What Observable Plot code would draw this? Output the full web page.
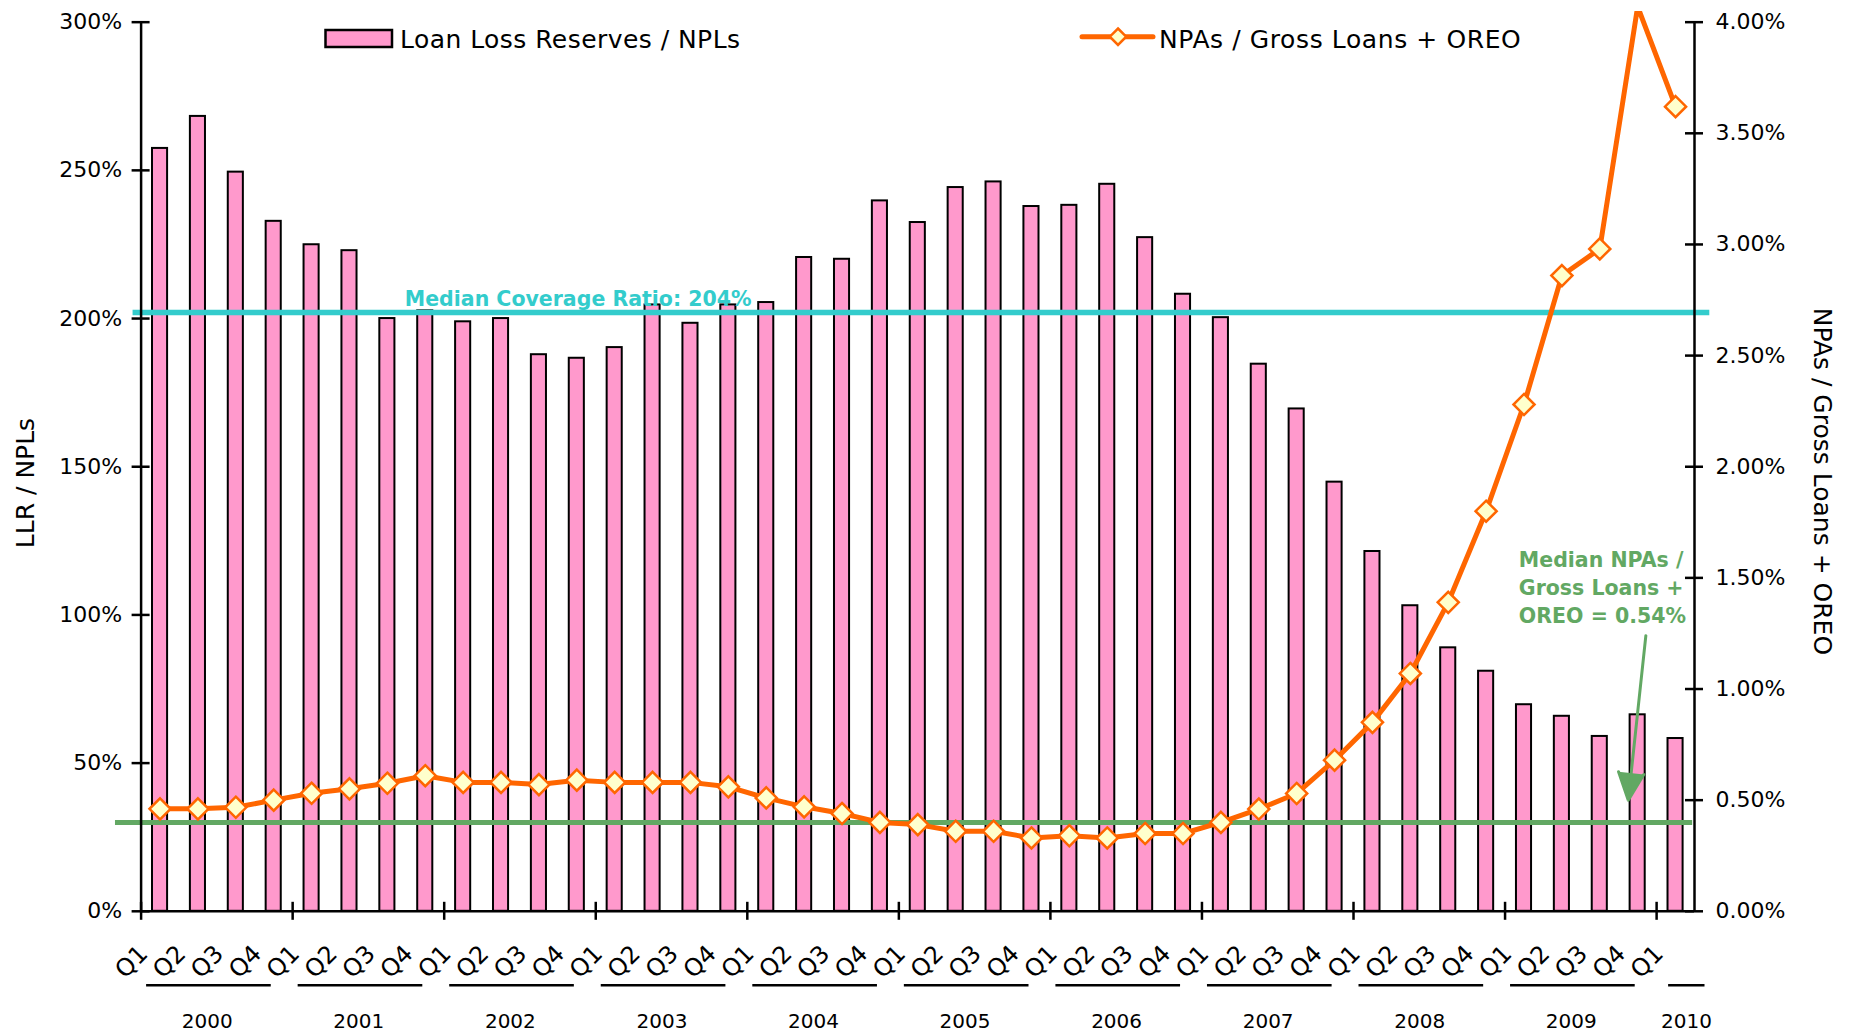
<!DOCTYPE html>
<html>
<head>
<meta charset="utf-8">
<script src="https://cdn.jsdelivr.net/npm/d3@7"></script>
<script src="https://cdn.jsdelivr.net/npm/@observablehq/plot@0.6"></script>
<style>
  html, body { margin: 0; padding: 0; background: #fff; }
  #wrap { position: relative; width: 1850px; height: 1032px; }
  #legend { position: absolute; left: 0; top: 0; pointer-events: none; }
</style>
</head>
<body>
<div id="wrap"></div>
<script>
// ---------------- data ----------------
const quarterLabels = [
  "Q1","Q2","Q3","Q4", "Q1","Q2","Q3","Q4", "Q1","Q2","Q3","Q4", "Q1","Q2","Q3","Q4",
  "Q1","Q2","Q3","Q4", "Q1","Q2","Q3","Q4", "Q1","Q2","Q3","Q4", "Q1","Q2","Q3","Q4",
  "Q1","Q2","Q3","Q4", "Q1","Q2","Q3","Q4", "Q1"
];
const yearLabels = ["2000","2001","2002","2003","2004","2005","2006","2007","2008","2009","2010"];

// Loan Loss Reserves / NPLs (%), left axis
const llrToNpls = [
  257.4, 268.2, 249.4, 232.8,
  224.9, 222.9, 200.0, 202.6,
  198.9, 200.0, 187.8, 186.6,
  190.2, 204.6, 198.4, 204.6,
  205.4, 220.6, 220.0, 239.7,
  232.4, 244.2, 246.1, 237.8,
  238.2, 245.3, 227.3, 208.2,
  200.3, 184.6, 169.5, 144.8,
  121.4, 103.1, 88.9, 81.0,
  69.7, 65.8, 59.0, 66.3,
  58.3
];
// NPAs / Gross Loans + OREO (%), right axis
const npaRatio = [
  0.461, 0.461, 0.468, 0.50,
  0.531, 0.551, 0.576, 0.61,
  0.58, 0.58, 0.57, 0.59,
  0.58, 0.58, 0.58, 0.56,
  0.51, 0.47, 0.44, 0.40,
  0.39, 0.36, 0.36, 0.33,
  0.34, 0.33, 0.35, 0.35,
  0.40, 0.46, 0.53, 0.68,
  0.85, 1.07, 1.39, 1.80,
  2.28, 2.86, 2.98, 4.07,
  3.62
];

const leftTicks = [0, 50, 100, 150, 200, 250, 300];
const rightTicks = [0, 0.5, 1, 1.5, 2, 2.5, 3, 3.5, 4];
const leftMax = 300, rightMax = 4;
const R = leftMax / rightMax;             // right-axis % -> left-axis %

const medianCoverage = 202;               // cyan reference line (left axis)
const medianNpa = 0.40;                   // green reference line (right axis)
const coverageText = "Median Coverage Ratio: 204%";
const npaText = "Median NPAs /\nGross Loans +\nOREO = 0.54%";

// ---------------- derived table ----------------
const startYear = 2000;
const rows = quarterLabels.map((q, i) => ({
  q,
  t1: startYear + i / 4,
  t2: startYear + (i + 1) / 4,
  tm: startYear + (i + 0.5) / 4,
  llr: llrToNpls[i],
  npa: npaRatio[i],
  npaY: npaRatio[i] * R
}));
const xEnd = startYear + quarterLabels.length / 4;
const fullYears = yearLabels.slice(0, -1).map(Number);
const lastYear = Number(yearLabels[yearLabels.length - 1]);
const yearTicks = d3.range(startYear, lastYear + 1);

const PINK = "#FF99CC", ORANGE = "#FF6600", MARKER = "#FFFFCC";
const CYAN = "#33CCCC", GREEN = "#62A863";
const FONT = "DejaVu Sans";

const chart = Plot.plot({
  width: 1850,
  height: 1032,
  marginLeft: 140.6,
  marginRight: 156,
  marginTop: 11,
  marginBottom: 121.2,
  x: {type: "linear", domain: [startYear, xEnd], axis: null},
  y: {type: "linear", domain: [0, 303.6], axis: null},
  style: {fontFamily: FONT, background: "white", overflow: "visible"},
  marks: [
    // bars
    Plot.rect(rows, {x1: "t1", x2: "t2", y1: 0, y2: "llr", fill: PINK, stroke: "#000", strokeWidth: 2, insetLeft: 11.4, insetRight: 11.4}),
    // reference lines
    Plot.ruleY([medianCoverage], {x1: 1999.947, x2: 2010.351, stroke: CYAN, strokeWidth: 5.5}),
    Plot.ruleY([medianNpa * R], {x1: 1999.831, x2: 2010.238, stroke: GREEN, strokeWidth: 5}),
    // NPA line + markers
    Plot.line(rows, {x: "tm", y: "npaY", stroke: ORANGE, strokeWidth: 5, clip: true}),
    Plot.dot(rows.filter(d => d.npa <= rightMax), {x: "tm", y: "npaY", symbol: "diamond2", r: 9.5, fill: MARKER, stroke: ORANGE, strokeWidth: 2.5}),
    // axes lines
    Plot.ruleX([startYear], {y1: 0, y2: leftMax, stroke: "#000", strokeWidth: 2.5}),
    Plot.ruleX([xEnd], {y1: 0, y2: leftMax, stroke: "#000", strokeWidth: 2.5}),
    Plot.ruleY([0], {x1: startYear, x2: xEnd, stroke: "#000", strokeWidth: 2.5}),
    // ticks crossing the axes
    Plot.ruleY(leftTicks, {x1: startYear, x2: startYear, insetLeft: -9, insetRight: -9, stroke: "#000", strokeWidth: 2.5}),
    Plot.ruleY(rightTicks.map(v => v * R), {x1: xEnd, x2: xEnd, insetLeft: -9, insetRight: -9, stroke: "#000", strokeWidth: 2.5}),
    Plot.ruleX(yearTicks, {y1: 0, y2: 0, insetTop: -9, insetBottom: -9, stroke: "#000", strokeWidth: 2.5}),
    // tick labels
    Plot.text(leftTicks, {x: startYear, y: d => d, text: d => d + "%", textAnchor: "end", dx: -19, fontSize: 22, fill: "#000"}),
    Plot.text(rightTicks, {x: xEnd, y: d => d * R, text: d => d.toFixed(2) + "%", textAnchor: "start", dx: 21, fontSize: 22, fill: "#000"}),
    // quarter labels
    Plot.text(rows, {x: "tm", frameAnchor: "bottom", text: "q", rotate: -45, textAnchor: "middle", dx: -23, dy: 56, fontSize: 24, fill: "#000"}),
    // year underlines
    Plot.ruleY(fullYears, {y: () => 0, x1: d => d, x2: d => d + 1, insetLeft: 5.5, insetRight: 21.4, dy: 74, stroke: "#000", strokeWidth: 2.5}),
    Plot.ruleY([lastYear], {y: () => 0, x1: d => d, x2: d => d + 0.25, insetLeft: 12, insetRight: -10.5, dy: 74, stroke: "#000", strokeWidth: 2.5}),
    // year labels
    Plot.text(fullYears, {x: d => d + 0.5, frameAnchor: "bottom", text: d => String(d), textAnchor: "middle", dx: -9.6, dy: 117, fontSize: 20, fill: "#000"}),
    Plot.text([lastYear], {x: d => d + 0.125, frameAnchor: "bottom", text: d => String(d), textAnchor: "middle", dx: 11, dy: 117, fontSize: 20, fill: "#000"}),
    // axis titles
    Plot.text(["LLR / NPLs"], {frameAnchor: "left", text: d => d, rotate: -90, textAnchor: "middle", dx: -115, dy: 21.6, fontSize: 25, fill: "#000"}),
    Plot.text(["NPAs / Gross Loans + OREO"], {frameAnchor: "right", text: d => d, rotate: 90, textAnchor: "middle", dx: 127, dy: 20, fontSize: 25, letterSpacing: 0.5, fill: "#000"}),
    // annotations
    Plot.text([coverageText], {x: 2001.74, y: 204.4, text: d => d, textAnchor: "start", lineAnchor: "bottom", fill: CYAN, fontWeight: "bold", fontSize: 20.5}),
    Plot.text([npaText], {x: 2009.091, y: 1.295 * R, text: d => d, textAnchor: "start", lineAnchor: "bottom", lineHeight: 1.37, fill: GREEN, fontWeight: "bold", fontSize: 20.5}),
    Plot.arrow([{}], {x1: 2009.929, y1: 1.24 * R, x2: 2009.813, y2: 0.50 * R, stroke: GREEN, fill: GREEN, strokeWidth: 3, headLength: 15, headAngle: 50})
  ]
});

const wrap = document.getElementById("wrap");
wrap.appendChild(chart);
chart.style.position = "absolute";
chart.style.left = "0px";
chart.style.top = "0px";

// legend overlay (top of plot)
const legend = `
<svg id="legend" width="1850" height="70" xmlns="http://www.w3.org/2000/svg" font-family="DejaVu Sans">
  <rect x="325.5" y="30" width="66.5" height="17" fill="${PINK}" stroke="#000" stroke-width="2.5"/>
  <text x="400" y="48" font-size="25" letter-spacing="0.45" fill="#000">Loan Loss Reserves / NPLs</text>
  <line x1="1082" x2="1153" y1="36.7" y2="36.7" stroke="${ORANGE}" stroke-width="5" stroke-linecap="round"/>
  <path d="M1118,28.5 L1126.2,36.7 L1118,44.9 L1109.8,36.7 Z" fill="${MARKER}" stroke="${ORANGE}" stroke-width="2.5"/>
  <text x="1159" y="48" font-size="25" letter-spacing="0.6" fill="#000">NPAs / Gross Loans + OREO</text>
</svg>`;
wrap.insertAdjacentHTML("beforeend", legend);
</script>
</body>
</html>
